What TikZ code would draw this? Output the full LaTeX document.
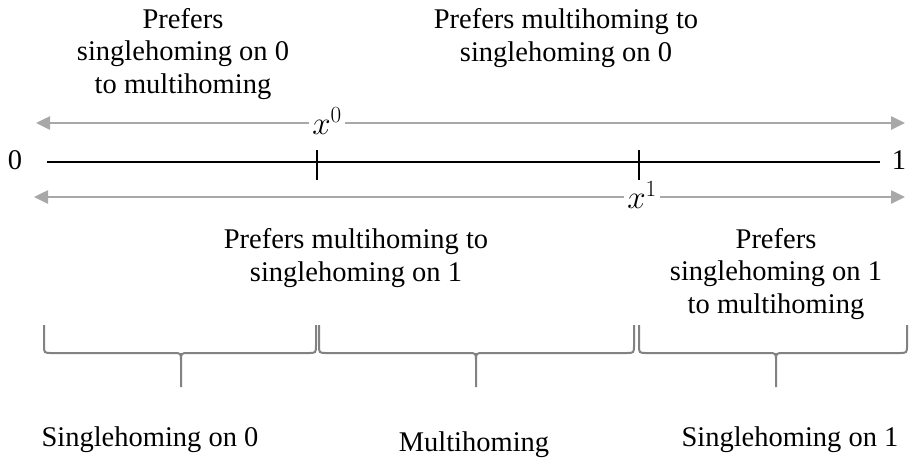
\RequirePackage{fix-cm}
\documentclass[tikz,border=0pt]{standalone}
\usepackage{fontspec}
\setmainfont{Liberation Serif}
\usetikzlibrary{arrows.meta}
\definecolor{arrowgray}{RGB}{168,168,168}
\definecolor{bracegray}{RGB}{130,130,130}
\begin{document}
\begin{tikzpicture}[x=1pt,y=-1pt,
  lbl/.style={align=center,font=\fontsize{28.5}{32.5}\selectfont,inner sep=0pt},
  mlbl/.style={font=\fontsize{33}{36}\selectfont,inner sep=3pt},
  garrow/.style={draw=arrowgray,line width=2.5pt,-{Triangle[length=14pt,width=13pt]}},
  brc/.style={draw=bracegray,line width=2pt},
  tickmark/.style={line width=1.5pt},
  axis/.style={line width=1.8pt}]
\useasboundingbox (0,0) rectangle (909,472);

% axis
\node[lbl] (zero) at (15,160) {0};
\node[lbl] (one) at (899,160) {1};
\coordinate (L) at (47,162);
\coordinate (R) at (880,162);
\draw[axis] (L) -- (R);
\coordinate (t0) at (317,162);
\coordinate (t1) at (639,162);
\draw[tickmark] ([yshift=12pt]t0) -- ([yshift=-18pt]t0);
\draw[tickmark] ([yshift=12pt]t1) -- ([yshift=-18pt]t1);

% threshold labels and arrows
\node[mlbl] (x0) at (327,121) {$x^0$};
\node[mlbl] (x1) at (642,195) {$x^1$};
\coordinate (ul) at (36,123);
\coordinate (ur) at (905,123);
\coordinate (ll) at (34,197);
\coordinate (lr) at (905,197);
\draw[garrow] (x0.west |- ul) -- (ul);
\draw[garrow] (x0.east |- ur) -- (ur);
\draw[garrow] (x1.west |- ll) -- (ll);
\draw[garrow] (x1.east |- lr) -- (lr);

% preference texts
\node[lbl] (p1) at (183,54) {Prefers\\singlehoming on 0\\to multihoming};
\node[lbl] (p2) at (566,38) {Prefers multihoming to\\singlehoming on 0};
\node[lbl] (p3) at (356,258) {Prefers multihoming to\\singlehoming on 1};
\node[lbl] (p4) at (776,274) {Prefers\\singlehoming on 1\\to multihoming};

% braces
\draw[brc] (44,325) -- (44,345) .. controls (44,353) .. (52,353) -- (173,353)
  .. controls (181,353) .. (181,361) -- (181,387)
  (181,361) .. controls (181,353) .. (189,353) -- (308,353)
  .. controls (316,353) .. (316,345) -- (316,325);
\draw[brc] (319,325) -- (319,345) .. controls (319,353) .. (327,353) -- (468,353)
  .. controls (476,353) .. (476,361) -- (476,387)
  (476,361) .. controls (476,353) .. (484,353) -- (626,353)
  .. controls (634,353) .. (634,345) -- (634,325);
\draw[brc] (639,325) -- (639,345) .. controls (639,353) .. (647,353) -- (768,353)
  .. controls (776,353) .. (776,361) -- (776,387)
  (776,361) .. controls (776,353) .. (784,353) -- (899,353)
  .. controls (907,353) .. (907,345) -- (907,325);

% outcome labels
\node[lbl] (b1) at (150,440) {Singlehoming on 0};
\node[lbl] (b2) at (474,445) {Multihoming};
\node[lbl] (b3) at (790,440) {Singlehoming on 1};
\end{tikzpicture}
\end{document}
